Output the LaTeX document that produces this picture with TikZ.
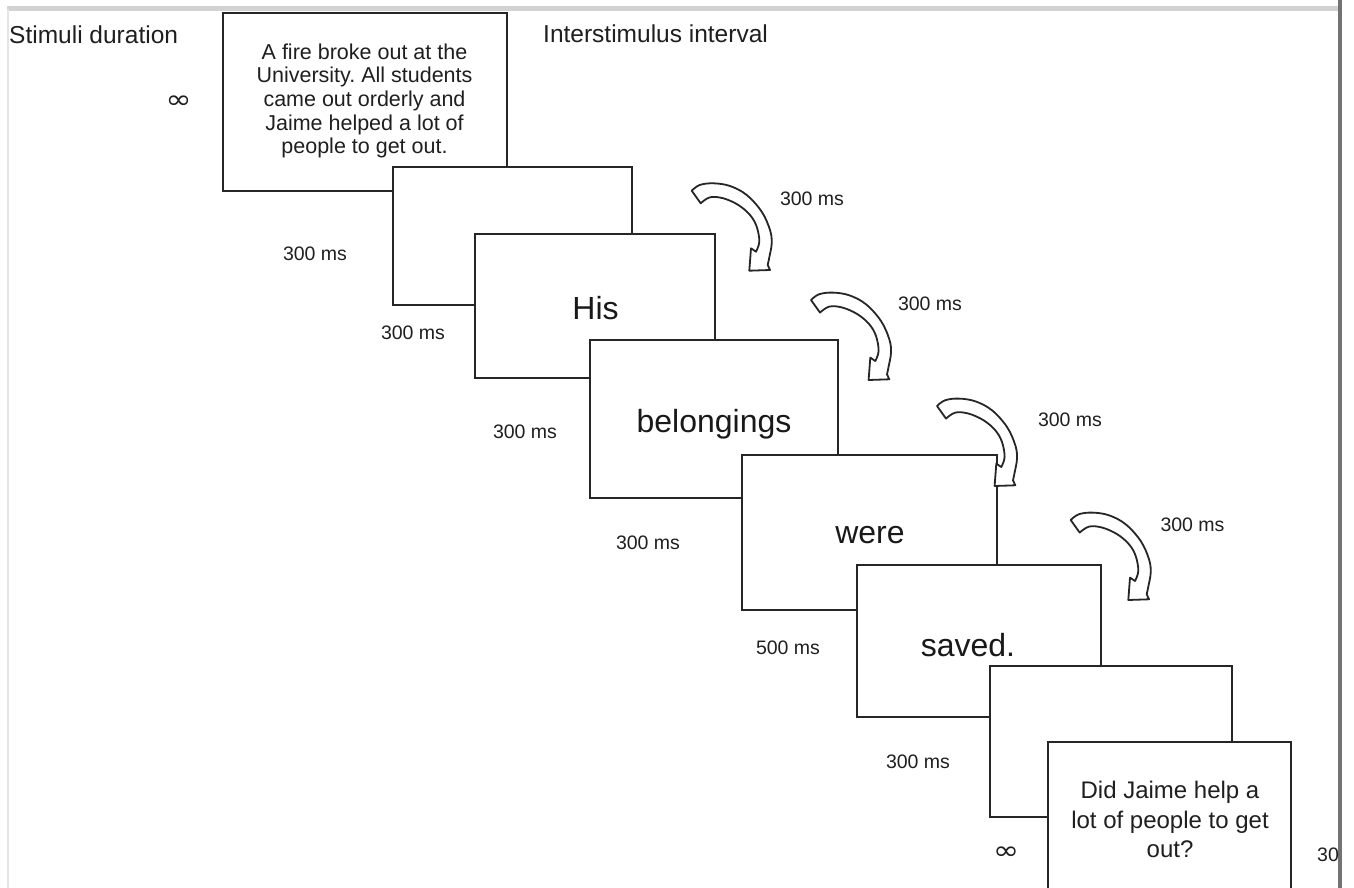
\documentclass[tikz,border=0pt]{standalone}
\usepackage{fontspec}
\setmainfont{Liberation Sans}
\newfontfamily\symfont{DejaVu Sans}
\frenchspacing
\begin{document}
\begin{tikzpicture}[x=1pt,y=-1pt,
  box/.style={draw=black!85, line width=2pt, fill=white, inner sep=0pt, outer sep=0pt, anchor=north west},
  lbl/.style={text=black!88, inner sep=0pt, font=\fontsize{19.5}{22}\selectfont},
  head/.style={text=black!88, inner sep=0pt, font=\fontsize{24.5}{28}\selectfont},
  word/.style={text=black!90, inner sep=0pt, font=\fontsize{32}{36}\selectfont},
  inf/.style={text=black!88, inner sep=0pt, font=\symfont\fontsize{26}{26}\selectfont},
  arrowline/.style={draw=black!85, line width=1.8pt, fill=white, line join=round},
  curvarrow/.pic={
    \draw[arrowline] plot[smooth, tension=0.6] coordinates {(0,0) (8,-5.7) (21.6,-7.4) (38.3,-4.7) (55,4.3) (70,21) (78.3,39.3) (80,52.6) (77.6,66.6) (76,74.3)}
      -- (78.3,79.3) -- (57.6,80) -- (59.3,57.6)
      -- plot[smooth, tension=0.6] coordinates {(64.3,61) (67.6,51) (65,36) (58.3,24.3) (46.6,14.3) (31.6,7.6) (18.3,6.6) (9,12.6)}
      -- cycle;
  }]
\clip (0,0) rectangle (1354,888);
\fill[white] (0,0) rectangle (1354,888);
% frame
\draw[line width=5pt, gray!35] (7,9) -- (1338,9);
\draw[line width=2pt, gray!20] (8.3,9) -- (8.3,888);
\draw[line width=4pt, gray!90!black] (1339.7,0) -- (1339.7,888);

% headings
\node[head, anchor=base west] (hstim) at (9,44) {Stimuli duration};
\node[head, anchor=base west] (hisi) at (543,43) {Interstimulus interval};

% boxes
\node[box, minimum width=283.7pt, minimum height=178pt] (b1) at (223,12.7) {};
\node[text=black!88, inner sep=0pt, align=center, font=\fontsize{21.5}{23.7}\selectfont] (t1) at (364.5,101)
  {A fire broke out at the\\University. All students\\came out orderly and\\Jaime helped a lot of\\people to get out.};
\node[box, minimum width=238.7pt, minimum height=138.3pt] (b2) at (393,166.7) {};
\node[box, minimum width=240pt, minimum height=144pt] (b3) at (475,234) {};
\node[word, anchor=base] (w3) at (595.5,319) {His};
\node[box, minimum width=248pt, minimum height=158pt] (b4) at (590,340) {};
\node[word, anchor=base] (w4) at (714,432) {belongings};
\node[box, minimum width=255pt, minimum height=155pt] (b5) at (742,455) {};
\node[word, anchor=base] (w5) at (870,543) {were};
\node[box, minimum width=243.7pt, minimum height=152pt] (b6) at (857,565) {};
\node[word, anchor=base] (w6) at (968,656) {saved.};
\node[box, minimum width=242pt, minimum height=150.7pt] (b7) at (990,666) {};
\node[box, minimum width=242.7pt, minimum height=170pt] (b8) at (1048,741.7) {};
\node[text=black!88, inner sep=0pt, align=center, font=\fontsize{24}{29.5}\selectfont] (t8) at (1170,819.5)
  {Did Jaime help a\\lot of people to get\\out?};

% duration labels
\node[inf] (inf1) at (178.5,102.5) {\scalebox{1.2}[1]{∞}};
\node[lbl] (d1) at (315,254) {300 ms};
\node[lbl] (d2) at (413,333) {300 ms};
\node[lbl] (d3) at (525,432) {300 ms};
\node[lbl] (d4) at (648,543) {300 ms};
\node[lbl] (d5) at (788,648) {500 ms};
\node[lbl] (d6) at (918,762) {300 ms};
\node[inf] (inf2) at (1006,853) {\scalebox{1.2}[1]{∞}};
\node[lbl, anchor=west] (d7) at (1317,855) {30};

% interstimulus arrows
\pic at (691.7,190.7) {curvarrow};
\pic at (811,300) {curvarrow};
\pic at (937,406) {curvarrow};
\pic at (1070.7,520) {curvarrow};
\node[lbl] (i1) at (812,199) {300 ms};
\node[lbl] (i2) at (930,304) {300 ms};
\node[lbl] (i3) at (1070,420) {300 ms};
\node[lbl] (i4) at (1192.5,524.5) {300 ms};
\end{tikzpicture}
\end{document}
